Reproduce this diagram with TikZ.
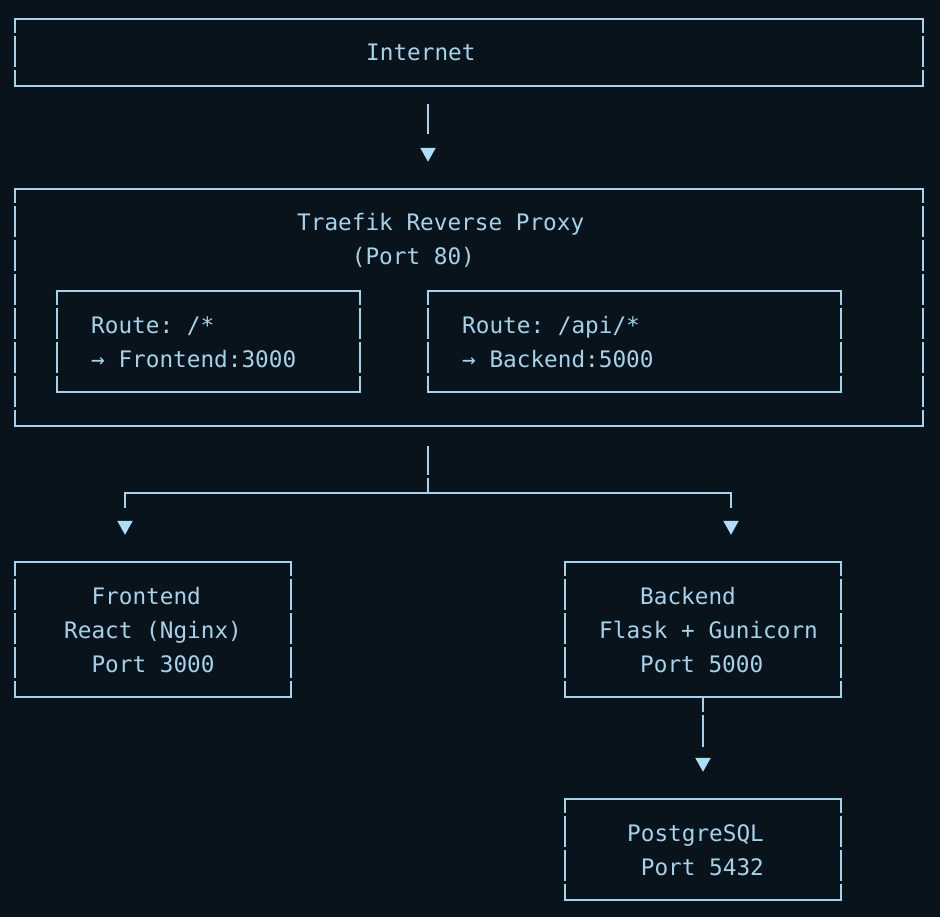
\documentclass[tikz,border=0pt]{standalone}
\usepackage{fontspec}
\setmonofont{DejaVu Sans Mono}
\usetikzlibrary{arrows.meta, positioning}

\definecolor{termbg}{HTML}{09131C}
\definecolor{termfg}{HTML}{A6D2EA}
\definecolor{termtip}{HTML}{AEDDF8}

% box-drawing frame: solid top/bottom, broken sides
\newcommand{\asciiframe}[1]{%
  \draw[hline] (#1.north west) -- (#1.north east) (#1.south west) -- (#1.south east);
  \draw[vline] (#1.north west) -- (#1.south west) (#1.north east) -- (#1.south east);
}

\begin{document}
\begin{tikzpicture}[x=1pt, y=-1pt,
    frame/.style={rectangle, inner sep=0pt, draw=none},
    txt/.style={anchor=west, inner sep=0pt, align=left, text=termfg, font=\ttfamily\fontsize{22.7}{34}\selectfont},
    hline/.style={draw=termfg, line width=2.2pt, line cap=rect},
    vline/.style={draw=termfg, line width=2.2pt, dash pattern=on 31pt off 3pt, dash phase=17pt},
    link/.style={draw=termfg, line width=2.2pt},
    tipdown/.style={-{Triangle[width=15pt, length=14pt, color=termtip, fill=termtip]}, shorten >=27pt}
]

    \fill[termbg] (0,0) rectangle (940,917);
    \useasboundingbox (0,0) rectangle (940,917);

    % Boxes
    \node[frame, minimum width=908pt, minimum height=67pt] (internet) at (469, 52.5) {};
    \node[frame, minimum width=908pt, minimum height=237pt] (proxy) at (469, 307.5) {};
    \node[frame, minimum width=303pt, minimum height=101pt] (routefront) at (208.5, 341.5) {};
    \node[frame, minimum width=413pt, minimum height=101pt] (routeback) at (634.5, 341.5) {};
    \node[frame, minimum width=276pt, minimum height=135pt] (frontend) at (153, 629.5) {};
    \node[frame, minimum width=276pt, minimum height=135pt] (backend) at (703, 629.5) {};
    \node[frame, minimum width=276pt, minimum height=101pt] (postgres) at (703, 849.5) {};

    \asciiframe{internet}
    \asciiframe{proxy}
    \asciiframe{routefront}
    \asciiframe{routeback}
    \asciiframe{frontend}
    \asciiframe{backend}
    \asciiframe{postgres}

    % Texts
    \node[txt] (internettxt) at (366, 52) {Internet};
    \node[txt] (proxytxt) at (297, 240) {Traefik Reverse Proxy\\~~~~(Port 80)};
    \node[txt] (routefronttxt) at (91, 342) {Route: /*\\→ Frontend:3000};
    \node[txt] (routebacktxt) at (462, 342) {Route: /api/*\\→ Backend:5000};
    \node[txt] (frontendtxt) at (64, 630) {~~Frontend\\React (Nginx)\\~~Port 3000};
    \node[txt] (backendtxt) at (599, 630) {~~~Backend\\Flask + Gunicorn\\~~~Port 5000};
    \node[txt] (postgrestxt) at (627, 850) {PostgreSQL\\~Port 5432};

    % Connectors
    \coordinate (split) at (428, 493);

    \draw[link, tipdown, dash pattern=on 30pt off 200pt, shorten <=18pt]
        ([xshift=-41pt]internet.south) -- ([xshift=-41pt]proxy.north);
    \draw[link, dash pattern=on 29pt off 3pt on 200pt, shorten <=20pt]
        ([xshift=-41pt]proxy.south) -- (split);
    \draw[link, tipdown, dash pattern=on 318pt off 200pt] (split) -| ([xshift=-28pt]frontend.north);
    \draw[link, tipdown, dash pattern=on 318pt off 200pt] (split) -| ([xshift=28pt]backend.north);
    \draw[link, tipdown, dash pattern=on 15pt off 3pt on 32pt off 200pt]
        (backend.south) -- (postgres.north);

\end{tikzpicture}
\end{document}
